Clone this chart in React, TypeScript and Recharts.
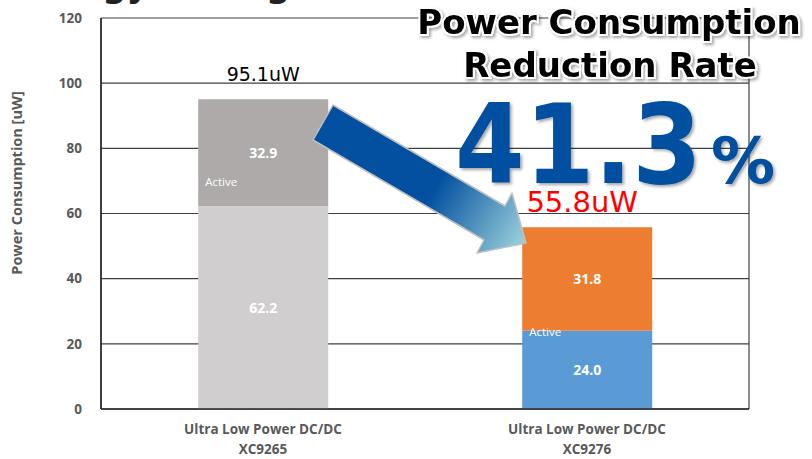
import React from "react";
import {
  Bar,
  BarChart,
  CartesianGrid,
  Cell,
  LabelList,
  XAxis,
  YAxis,
} from "recharts";

const categories = ["Ultra Low Power DC/DC", "Ultra Low Power DC/DC"];
const models = ["XC9265", "XC9276"];
const standbyValues = [62.2, 24.0];
const activeValues = [32.9, 31.8];
const totalLabels = ["95.1uW", "55.8uW"];
const yTicks = [0, 20, 40, 60, 80, 100, 120];

const standbyColors = ["#D0CECE", "#5B9BD5"];
const activeColors = ["#AEAAAA", "#ED7D31"];

const data = models.map((model, i) => ({
  model,
  category: categories[i],
  standby: standbyValues[i],
  active: activeValues[i],
  total: totalLabels[i],
}));

const TICK_FONT = "'Open Sans', sans-serif";
const BIG_FONT = "'DejaVu Sans', Verdana, sans-serif";

const XTick = (props: any) => {
  const { x, y, index } = props;
  return (
    <text
      x={x}
      y={y}
      textAnchor="middle"
      fill="#595959"
      fontFamily={TICK_FONT}
      fontWeight={700}
      fontSize={13.5}
    >
      <tspan x={x} dy={17}>
        {categories[index]}
      </tspan>
      <tspan x={x} dy={20}>
        {models[index]}
      </tspan>
    </text>
  );
};

const TotalLabel = (props: any) => {
  const { x, y, width, index } = props;
  const first = index === 0;
  return (
    <text
      x={x + width / 2 + (first ? 0 : -5)}
      y={y - (first ? 18 : 15)}
      textAnchor="middle"
      fill={first ? "#000000" : "#FF0000"}
      fontFamily={BIG_FONT}
      fontSize={first ? 19 : 29}
    >
      {totalLabels[index]}
    </text>
  );
};

const ActiveLabel = (props: any) => {
  const { x, y, height, index } = props;
  const offset = index === 0 ? -20 : 5;
  return (
    <text
      x={x + 7}
      y={y + height + offset}
      fill="#FFFFFF"
      fontFamily={TICK_FONT}
      fontSize={11.5}
    >
      Active
    </text>
  );
};

const YLabel = () => (
  <text
    x={22}
    y={183}
    transform="rotate(-90 22 183)"
    textAnchor="middle"
    fill="#595959"
    fontFamily={TICK_FONT}
    fontWeight={700}
    fontSize={14.5}
  >
    Power Consumption [uW]
  </text>
);

const Overlay = () => (
  <svg
    width={812}
    height={459}
    style={{ position: "absolute", left: 0, top: 0, pointerEvents: "none" }}
  >
    <defs>
      <linearGradient
        id="arrowFill"
        gradientUnits="userSpaceOnUse"
        x1={323}
        y1={122}
        x2={526}
        y2={243}
      >
        <stop offset="0" stopColor="#0350A0" />
        <stop offset="0.55" stopColor="#0350A0" />
        <stop offset="1" stopColor="#9DD3DB" />
      </linearGradient>
      <filter id="shadow" x="-10%" y="-10%" width="130%" height="140%">
        <feDropShadow dx="2" dy="2" stdDeviation="1.5" floodColor="#000" floodOpacity="0.35" />
      </filter>
    </defs>
    <text
      x={15}
      y={-3}
      fill="#222"
      fontFamily={BIG_FONT}
      fontWeight={700}
      fontSize={34}
    >
      Energy Saving
    </text>
    <polygon
      points="333,105 505,206 512,193 526,243 477,253 484,240 313,140"
      fill="url(#arrowFill)"
      stroke="#BFBFBF"
      strokeWidth={1.5}
      strokeLinejoin="round"
    />
    <g filter="url(#shadow)" fontFamily={BIG_FONT} fontWeight={700}>
      <text
        x={609}
        y={34}
        textAnchor="middle"
        fontSize={34}
        fill="#000"
        stroke="#FFF"
        strokeWidth={4}
        paintOrder="stroke"
      >
        Power Consumption
      </text>
      <text
        x={610}
        y={77}
        textAnchor="middle"
        fontSize={34}
        fill="#000"
        stroke="#FFF"
        strokeWidth={4}
        paintOrder="stroke"
      >
        Reduction Rate
      </text>
      <text
        x={455}
        y={183}
        fontSize={110}
        fill="#0350A0"
        textLength={247}
        lengthAdjust="spacingAndGlyphs"
      >
        41.3
      </text>
      <text x={711} y={183} fontSize={64} fill="#0350A0">
        %
      </text>
    </g>
  </svg>
);

export default function App() {
  return (
    <div
      style={{
        position: "absolute",
        left: 0,
        top: 0,
        width: 812,
        height: 459,
        background: "#FFFFFF",
        overflow: "hidden",
        fontFamily: TICK_FONT,
      }}
    >
      <BarChart
        width={812}
        height={459}
        data={data}
        margin={{ top: 18, right: 63, bottom: 0, left: 0 }}
        barCategoryGap="30%"
      >
        <CartesianGrid
          stroke="#404040"
          strokeWidth={1.2}
          verticalCoordinatesGenerator={({ offset }: any) => [
            offset.left,
            offset.left + offset.width,
          ]}
        />
        <XAxis
          dataKey="model"
          height={50}
          tickLine={false}
          axisLine={{ stroke: "#262626", strokeWidth: 1.5 }}
          tick={<XTick />}
          interval={0}
        />
        <YAxis
          width={101}
          domain={[0, 120]}
          ticks={yTicks}
          tickLine={false}
          tickMargin={13}
          axisLine={{ stroke: "#262626", strokeWidth: 1.5 }}
          tick={{
            fill: "#595959",
            fontFamily: TICK_FONT,
            fontWeight: 700,
            fontSize: 13.5,
          }}
          label={<YLabel />}
        />
        <Bar dataKey="standby" stackId="a" isAnimationActive={false}>
          {data.map((_, i) => (
            <Cell key={i} fill={standbyColors[i]} />
          ))}
          <LabelList
            dataKey="standby"
            position="center"
            fill="#FFFFFF"
            fontFamily={TICK_FONT}
            fontWeight={700}
            fontSize={14}
            formatter={(v: any) => Number(v).toFixed(1)}
          />
        </Bar>
        <Bar dataKey="active" stackId="a" isAnimationActive={false}>
          {data.map((_, i) => (
            <Cell key={i} fill={activeColors[i]} />
          ))}
          <LabelList
            dataKey="active"
            position="center"
            fill="#FFFFFF"
            fontFamily={TICK_FONT}
            fontWeight={700}
            fontSize={14}
            formatter={(v: any) => Number(v).toFixed(1)}
          />
          <LabelList dataKey="active" content={<ActiveLabel />} />
          <LabelList dataKey="total" content={<TotalLabel />} />
        </Bar>
      </BarChart>
      <Overlay />
    </div>
  );
}
